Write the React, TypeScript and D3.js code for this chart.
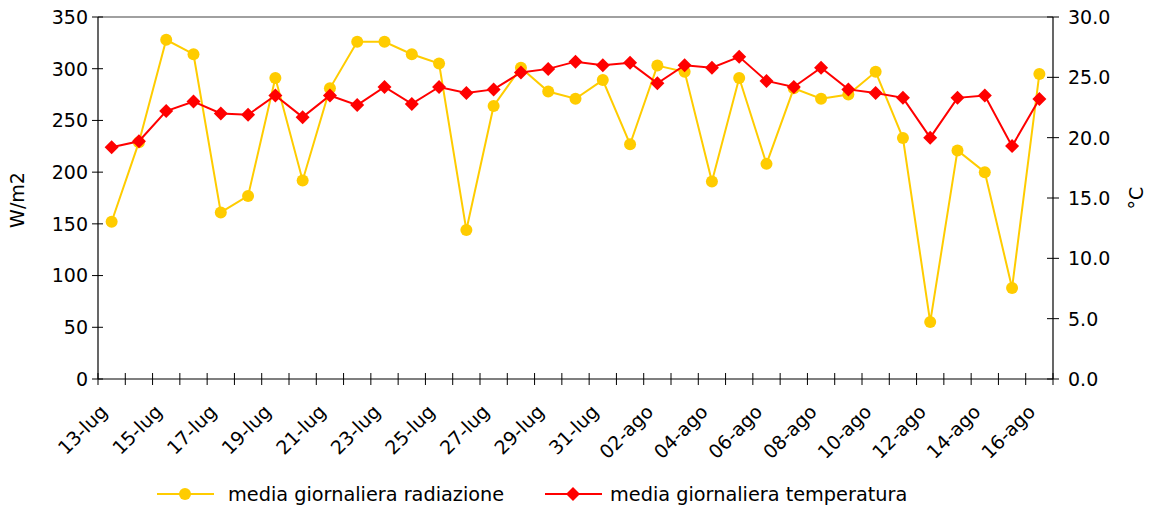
import React from "react";
import * as d3 from "d3";

const dates = [
  "13-lug","14-lug","15-lug","16-lug","17-lug","18-lug","19-lug","20-lug","21-lug","22-lug",
  "23-lug","24-lug","25-lug","26-lug","27-lug","28-lug","29-lug","30-lug","31-lug","01-ago",
  "02-ago","03-ago","04-ago","05-ago","06-ago","07-ago","08-ago","09-ago","10-ago","11-ago",
  "12-ago","13-ago","14-ago","15-ago","16-ago",
];
const radiazione = [
  152, 229, 328, 314, 161, 177, 291, 192, 281, 326,
  326, 314, 305, 144, 264, 301, 278, 271, 289, 227,
  303, 297, 191, 291, 208, 281, 271, 275, 297, 233,
  55, 221, 200, 88, 295,
];
const temperatura = [
  19.2, 19.7, 22.2, 23.0, 22.0, 21.9, 23.5, 21.7, 23.5, 22.7,
  24.2, 22.8, 24.2, 23.7, 24.0, 25.4, 25.7, 26.3, 26.0, 26.2,
  24.5, 26.0, 25.8, 26.7, 24.7, 24.2, 25.8, 24.0, 23.7, 23.3,
  20.0, 23.3, 23.5, 19.3, 23.2,
];
const leftTicks = [0, 50, 100, 150, 200, 250, 300, 350];
const rightTicks = [0, 5, 10, 15, 20, 25, 30];
const seriesNames = ["media giornaliera radiazione", "media giornaliera temperatura"];

const W = 1153, H = 510;
const M = { left: 98, right: 1053, top: 17, bottom: 379 };
const FONT = "DejaVu Sans";
const YELLOW = "#FFCC00";
const RED = "#FF0000";

export default function App() {
  const x = d3.scaleBand<string>().domain(dates).range([M.left, M.right]);
  const yL = d3.scaleLinear().domain([0, 350]).range([M.bottom, M.top]);
  const yR = d3.scaleLinear().domain([0, 30]).range([M.bottom, M.top]);
  const cx = (d: string) => (x(d) as number) + x.bandwidth() / 2;

  const lineRad = d3.line<number>().x((_, i) => cx(dates[i])).y((v) => yL(v))(radiazione) as string;
  const lineTmp = d3.line<number>().x((_, i) => cx(dates[i])).y((v) => yR(v))(temperatura) as string;
  const diamond = (px: number, py: number, s: number) =>
    `M${px},${py - s}L${px + s},${py}L${px},${py + s}L${px - s},${py}Z`;

  const boundaries = d3.range(dates.length + 1).map((i) => M.left + i * x.step());

  return (
    <svg width={W} height={H} style={{ position: "absolute", left: 0, top: 0, background: "#fff" }} fontFamily={FONT}>
      {/* top border */}
      <line x1={M.left} x2={M.right} y1={M.top} y2={M.top} stroke="#808080" strokeWidth={1.5} />
      {/* axes */}
      <line x1={M.left} x2={M.left} y1={M.top} y2={M.bottom} stroke="#000" strokeWidth={1.2} />
      <line x1={M.right} x2={M.right} y1={M.top} y2={M.bottom} stroke="#000" strokeWidth={1.2} />
      <line x1={M.left} x2={M.right} y1={M.bottom} y2={M.bottom} stroke="#000" strokeWidth={1.2} />
      {leftTicks.map((t) => (
        <g key={"l" + t}>
          <line x1={M.left - 6} x2={M.left + 5} y1={yL(t)} y2={yL(t)} stroke="#000" />
          <text x={M.left - 10} y={yL(t)} dy="0.36em" textAnchor="end" fontSize={19}>{t}</text>
        </g>
      ))}
      {rightTicks.map((t) => (
        <g key={"r" + t}>
          <line x1={M.right - 6} x2={M.right + 6} y1={yR(t)} y2={yR(t)} stroke="#000" />
          <text x={M.right + 15} y={yR(t)} dy="0.36em" textAnchor="start" fontSize={19}>{t.toFixed(1)}</text>
        </g>
      ))}
      {boundaries.map((bx, i) => (
        <line key={"b" + i} x1={bx} x2={bx} y1={M.bottom - 6} y2={M.bottom + 6} stroke="#000" />
      ))}
      {dates.map((d, i) =>
        i % 2 === 0 ? (
          <text key={"x" + d} transform={`translate(${cx(d) - 3},${M.bottom + 34}) rotate(-45)`} textAnchor="end" fontSize={19}>
            {d}
          </text>
        ) : null
      )}
      <text transform={`translate(24,${(M.top + M.bottom) / 2 + 2}) rotate(-90)`} textAnchor="middle" fontSize={19}>W/m2</text>
      <text transform={`translate(1143,198) rotate(-90)`} textAnchor="middle" fontSize={19}>°C</text>

      {/* series */}
      <path d={lineRad} fill="none" stroke={YELLOW} strokeWidth={2} />
      {radiazione.map((v, i) => (
        <circle key={"c" + i} cx={cx(dates[i])} cy={yL(v)} r={6} fill={YELLOW} />
      ))}
      <path d={lineTmp} fill="none" stroke={RED} strokeWidth={2} />
      {temperatura.map((v, i) => (
        <path key={"d" + i} d={diamond(cx(dates[i]), yR(v), 7)} fill={RED} />
      ))}

      {/* legend */}
      <line x1={157} x2={214} y1={494} y2={494} stroke={YELLOW} strokeWidth={2} />
      <circle cx={185} cy={494} r={6} fill={YELLOW} />
      <text x={228} y={494} dy="0.36em" fontSize={19.3}>{seriesNames[0]}</text>
      <line x1={545} x2={602} y1={494} y2={494} stroke={RED} strokeWidth={2} />
      <path d={diamond(573, 494, 7)} fill={RED} />
      <text x={610} y={494} dy="0.36em" fontSize={19.3}>{seriesNames[1]}</text>
    </svg>
  );
}
